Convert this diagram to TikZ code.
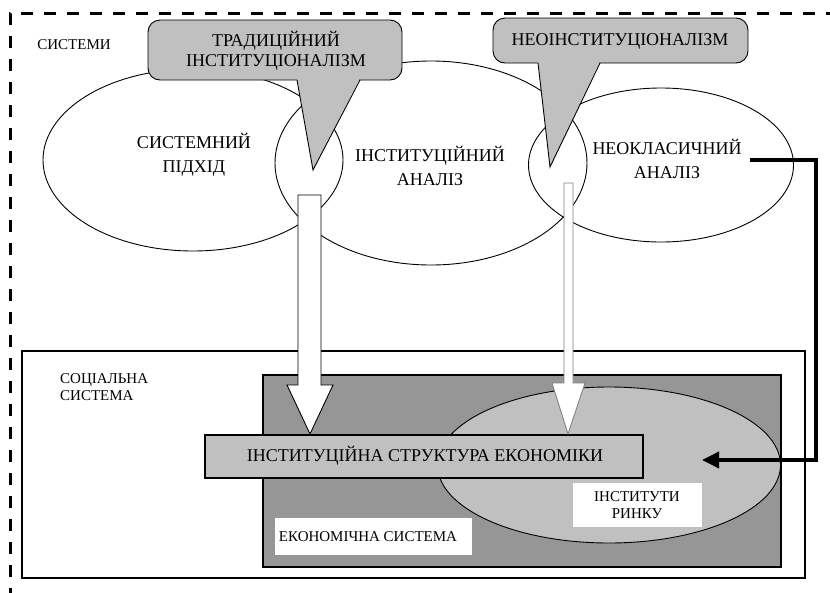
\documentclass[tikz,border=0pt]{standalone}
\usepackage{fontspec}
\setmainfont{Liberation Serif}
\usetikzlibrary{shapes.geometric,arrows.meta,calc}
\definecolor{lgray}{HTML}{C0C0C0}
\definecolor{dgray}{HTML}{969696}
\definecolor{mgray}{HTML}{808080}
\begin{document}
\begin{tikzpicture}[x=1pt,y=-1pt,
  ell/.style={draw, ellipse, inner sep=0pt, line width=0.9pt},
  big/.style={font=\fontsize{18}{24}\selectfont, align=center, inner sep=0pt},
  callt/.style={font=\fontsize{18}{20}\selectfont, align=center, inner sep=0pt},
  small/.style={font=\fontsize{15}{17}\selectfont, align=center, inner sep=0pt},
  calloutbody/.style={draw, fill=lgray, line width=0.9pt, rounded corners=12pt},
  thickbox/.style={draw, line width=2.5pt},
  blockarrow/.style={draw, fill=white, line width=0.9pt, line join=miter},
  feedback/.style={line width=3.5pt, line join=miter, -{Triangle[length=17pt,width=16pt]}}]
\useasboundingbox (0,0) rectangle (830,592);

% outer dashed frame
\draw[line width=3pt, dash pattern=on 12pt off 11pt] (10,600) -- (10,13) -- (840,13);
\node[small, anchor=center] (sys) at (74,45) {СИСТЕМИ};

% ellipses
\node[ell, minimum width=300pt, minimum height=182pt] (e1) at (193,160) {};
\node[ell, minimum width=312pt, minimum height=204pt] (e2) at (431,163) {};
\node[ell, minimum width=265pt, minimum height=154pt] (e3) at (661,165) {};
\node[big] (t1) at (194,155) {СИСТЕМНИЙ\\ПІДХІД};
\node[big] (t2) at (430,166) {ІНСТИТУЦІЙНИЙ\\АНАЛІЗ};
\node[big] (t3) at (667,159) {НЕОКЛАСИЧНИЙ\\АНАЛІЗ};

% callout 1
\draw[calloutbody] (148,20) rectangle (402,80);
\fill[lgray] (297,78) -- (360,78) -- (313,170) -- cycle;
\draw[line width=0.9pt] (297,80) -- (313,170) -- (360,80);
\node[callt] (c1) at (276,51) {ТРАДИЦІЙНИЙ\\ІНСТИТУЦІОНАЛІЗМ};

% callout 2
\draw[calloutbody] (493,18) rectangle (748,63);
\fill[lgray] (538,61) -- (600,61) -- (550,167) -- cycle;
\draw[line width=0.9pt] (538,63) -- (550,167) -- (600,63);
\node[callt] (c2) at (620,41) {НЕОІНСТИТУЦІОНАЛІЗМ};

% social system
\draw[thickbox, fill=white] (22,351) rectangle (805,578);
\node[small, align=left, anchor=west] (soc) at (60,387) {СОЦІАЛЬНА\\СИСТЕМА};

% economic system
\draw[thickbox, fill=dgray] (263,375) rectangle (781,567);
\node[ellipse, draw, fill=lgray, line width=0.9pt, inner sep=0pt, minimum width=343pt, minimum height=156pt] (mkt) at (609,465) {};

% institutional structure bar
\node[thickbox, fill=lgray, minimum width=438pt, minimum height=43pt, inner sep=0pt] (bar) at (424,456.5) {};
\node[big] (bart) at (425,456) {ІНСТИТУЦІЙНА СТРУКТУРА ЕКОНОМІКИ};

% labels in white boxes
\node[fill=white, minimum width=197pt, minimum height=37pt, inner sep=0pt] (ecobox) at (373.5,536.5) {};
\node[small] (eco) at (368,537) {ЕКОНОМІЧНА СИСТЕМА};
\node[fill=white, minimum width=129pt, minimum height=44pt, inner sep=0pt] (mktbox) at (637.5,505) {};
\node[small] (mktt) at (637,505) {ІНСТИТУТИ\\РИНКУ};

% block arrow 1
\coordinate (a1s) at (309.5,195);
\coordinate (a1t) at (310,434);
\draw[blockarrow] (298,195) -- (321,195) -- (321,385) -- (333,385) -- (a1t) -- (287,385) -- (298,385) -- cycle;

% block arrow 2
\coordinate (a2s) at (568.5,183);
\coordinate (a2t) at (568,434);
\draw[blockarrow, draw=mgray] (564,183) -- (573,183) -- (573,383) -- (585,383) -- (a2t) -- (552,383) -- (564,383) -- cycle;

% feedback arrow
\coordinate (fbs) at (750,160);
\coordinate (fbt) at (702,460);
\draw[feedback] (fbs) -- (816,160) -- (816,460) -- (fbt);
\end{tikzpicture}
\end{document}
